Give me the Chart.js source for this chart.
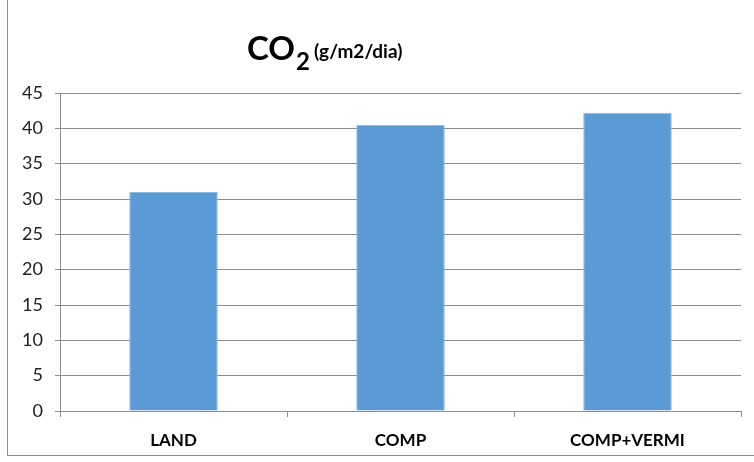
<!DOCTYPE html>
<html lang="es">
<head>
  <meta charset="UTF-8" />
  <title>CO2 (g/m2/dia)</title>
  <style>
    html, body { margin: 0; padding: 0; background: #fff; }
    .wrap { position: relative; width: 754px; height: 462px; overflow: hidden; }
    .frame { position: absolute; left: 7px; top: -1px; width: 780px; height: 455px; border: 1px solid #8c8c8c; }
    canvas { position: absolute; left: 0; top: 0; }
  </style>
</head>
<body>
  <div class="wrap">
    <div class="frame"></div>
    <canvas id="co2Chart" width="754" height="462"></canvas>
  </div>

  <script src="https://cdn.jsdelivr.net/npm/chart.js"></script>
  <script>
    // data
    const categories = ['LAND', 'COMP', 'COMP+VERMI'];
    const co2Values = [31.0, 40.5, 42.2];
    const yTicks = [0, 5, 10, 15, 20, 25, 30, 35, 40, 45];

    const FONT = 'Lato, "Open Sans", sans-serif';

    // title with subscript, drawn as text on the canvas
    const titlePlugin = {
      id: 'co2Title',
      afterDraw(chart) {
        const c = chart.ctx;
        c.save();
        c.fillStyle = '#000';
        c.textBaseline = 'alphabetic';
        c.textAlign = 'left';
        let x = 247;
        c.font = 'bold 33px ' + FONT;
        c.fillText('CO', x, 60);
        x += c.measureText('CO').width + 1;
        c.font = 'bold 24px ' + FONT;
        c.fillText('2', x, 70);
        x += c.measureText('2').width + 4;
        c.font = 'bold 19px ' + FONT;
        c.fillText('(g/m2/dia)', x, 58);
        c.restore();
      }
    };

    new Chart(document.getElementById('co2Chart'), {
      type: 'bar',
      data: {
        labels: categories,
        datasets: [{
          label: 'CO2',
          data: co2Values,
          backgroundColor: '#5B9BD5',
          borderColor: '#8FBCE6',
          borderWidth: 1,
          barPercentage: 0.39,
          categoryPercentage: 1
        }]
      },
      options: {
        responsive: false,
        animation: false,
        layout: { padding: { top: 93, left: 0, right: 13, bottom: 0 } },
        plugins: {
          legend: { display: false },
          tooltip: { enabled: false }
        },
        scales: {
          y: {
            min: 0,
            max: 45,
            afterBuildTicks(scale) { scale.ticks = yTicks.map(v => ({ value: v })); },
            afterFit(scale) { scale.width = 60; },
            border: { color: '#8c8c8c', width: 1 },
            grid: { color: '#8c8c8c', lineWidth: 1, tickLength: 5 },
            ticks: { color: '#222', font: { family: FONT, size: 18 }, padding: 12 }
          },
          x: {
            afterFit(scale) { scale.height = 51; },
            border: { color: '#8c8c8c', width: 1 },
            grid: { color: '#8c8c8c', drawOnChartArea: false, tickLength: 6, offset: true },
            ticks: { color: '#000', font: { family: FONT, size: 17, weight: 'bold' }, padding: 13 }
          }
        }
      },
      plugins: [titlePlugin]
    });
  </script>
</body>
</html>
